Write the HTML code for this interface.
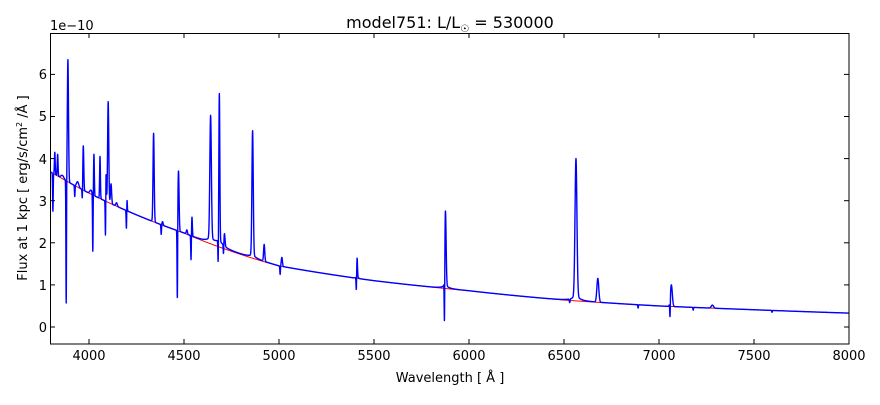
<!DOCTYPE html>
<html><head><meta charset="utf-8"><style>
body{margin:0;background:#fff;}
svg text{font-family:"DejaVu Sans","Liberation Sans",sans-serif;fill:#000;}
</style></head><body>
<svg id="s" width="880" height="400" xmlns="http://www.w3.org/2000/svg">
<rect width="880" height="400" fill="#fff"/>
<defs><clipPath id="c"><rect x="50" y="33" width="799" height="311"/></clipPath></defs>
<g clip-path="url(#c)">
<path id="red" fill="none" stroke="#ff0000" stroke-width="1"/>
<path id="blue" fill="none" stroke="#0000ff" stroke-width="1.4" stroke-linejoin="round"/>
</g>
<rect x="50.5" y="33.5" width="798.5" height="310.5" fill="none" stroke="#000" stroke-width="1"/>
<g id="ticks" stroke="#000" stroke-width="1"></g>
<g font-size="13" text-anchor="middle">
<text x="89" y="360">4000</text><text x="184" y="360">4500</text><text x="279" y="360">5000</text>
<text x="374" y="360">5500</text><text x="469" y="360">6000</text><text x="564" y="360">6500</text>
<text x="659" y="360">7000</text><text x="754" y="360">7500</text><text x="849" y="360">8000</text>
</g>
<g font-size="13" text-anchor="end">
<text x="47" y="332">0</text><text x="47" y="290">1</text><text x="47" y="248">2</text>
<text x="47" y="206">3</text><text x="47" y="164">4</text><text x="47" y="121">5</text><text x="47" y="79">6</text>
</g>
<text x="50" y="30" font-size="13">1e−10</text>
<text x="450" y="382" font-size="13" text-anchor="middle">Wavelength [ Å ]</text>
<text transform="translate(27,188) rotate(-90)" font-size="13" text-anchor="middle">Flux at 1 kpc [ erg/s/cm<tspan font-size="8" dy="-5">2</tspan><tspan dy="5"> /Å ]</tspan></text>
<text x="450" y="28" font-size="16" text-anchor="middle">model751: L/L<tspan font-size="10" dy="4">☉</tspan><tspan dy="-4"> = 530000</tspan></text>
</svg>
<script>
var X=function(l){return 51+(l-3800)*0.19;},Y=function(f){return 327-f*42.1;};
var cp=[[3800,3.68],[4000,3.18],[4500,2.23],[5000,1.45],[5500,1.1],[6000,0.86],[6500,0.64],[7000,0.5],[7500,0.41],[8000,0.33]];
function cont(l){for(var i=0;i<cp.length-1;i++){if(l<=cp[i+1][0]){var t=(l-cp[i][0])/(cp[i+1][0]-cp[i][0]);return Math.exp(Math.log(cp[i][1])*(1-t)+Math.log(cp[i+1][1])*t);}}return 0.33;}
var em=[[3820,4.15,2],[3835,4.1,2],[3889,6.35,3],[3970,4.3,2.5],[4026,4.1,2],[4058,4.05,2],[4089,3.9,2],[4101,5.35,3],[4116,3.4,3],[4145,2.95,4],[4200,3.05,1.5],[4340,4.6,3],[4387,2.5,3],[4471,3.7,3],[4515,2.3,3],[4542,2.6,2],[4640,4.9,4],[4686,5.4,2.5],[4713,2.15,3],[4861,4.6,3.5],[4922,1.95,3],[5015,1.65,3],[5411,1.6,2],[5876,2.7,3.5],[6563,3.9,5],[6678,1.15,5],[7065,1.0,5],[7281,0.52,6],[5411,1.2,6],[3860,3.6,8],[3940,3.45,6],[4010,3.25,6]];
var ab=[[3810,2.75,1.5],[3880,0.57,1.5],[3925,3.1,1.5],[3965,3.1,1.5],[4020,1.8,1.5],[4087,2.25,1.5],[4197,2.35,1.5],[4380,2.2,1.5],[4465,0.7,1.5],[4537,1.6,1.5],[4680,1.6,1.5],[4708,1.75,1.5],[5006,1.25,1.5],[5407,0.9,1.5],[5871,0.2,1.5],[7058,0.25,1.5],[6890,0.45,1.5],[7180,0.4,1.5],[7595,0.35,1.5],[6530,0.58,2]];
function base(l){var v=cont(l);em.forEach(function(e){var a=e[1]-cont(e[0]);if(a>0){var d=(l-e[0])/e[2];v+=a*Math.exp(-0.5*d*d);}});
[[6563,0.1,25],[4686,0.12,25],[4640,0.1,25],[4861,0.06,25],[5876,0.06,20]].forEach(function(e){var d=(l-e[0])/e[2];v+=e[1]/(1+d*d);});return v;}
ab.forEach(function(e){e.push(base(e[0])-e[1]);});
function blue(l){var v=base(l);ab.forEach(function(e){var d=(l-e[0])/e[2];v-=e[3]*Math.exp(-0.5*d*d);});return v;}
var r="",b="";for(var l=3800;l<=8000;l+=0.5){r+=(l==3800?"M":"L")+X(l).toFixed(2)+" "+Y(cont(l)).toFixed(2);b+=(l==3800?"M":"L")+X(l).toFixed(2)+" "+Y(blue(l)).toFixed(2);}
document.getElementById("red").setAttribute("d",r);document.getElementById("blue").setAttribute("d",b);
var t="";for(var w=4000;w<=8000;w+=500){var x=X(w);t+='<line x1="'+x+'" y1="344" x2="'+x+'" y2="339"/><line x1="'+x+'" y1="33" x2="'+x+'" y2="38"/>';}
for(var f=0;f<=6;f++){var y=Y(f);t+='<line x1="50" y1="'+y+'" x2="55" y2="'+y+'"/><line x1="849" y1="'+y+'" x2="844" y2="'+y+'"/>';}
document.getElementById("ticks").innerHTML=t;
</script>
</body></html>
